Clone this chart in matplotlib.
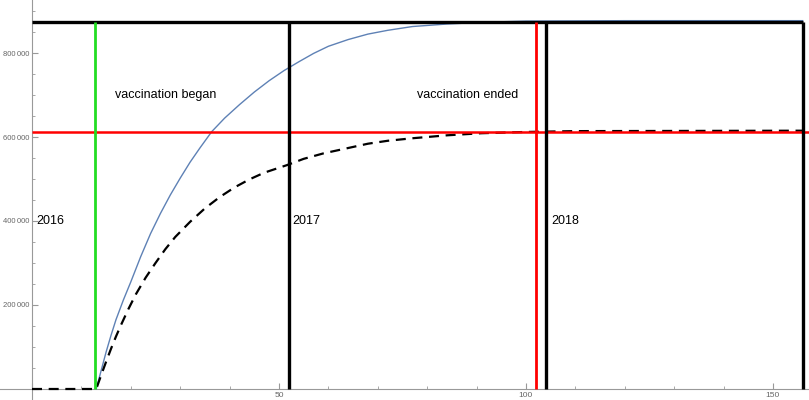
import matplotlib.pyplot as plt
from matplotlib.ticker import MultipleLocator, FuncFormatter

# weeks since start of 2016 vs. vaccinated count
weeks_model = [13, 14, 15, 16, 17, 18.5, 20, 22, 24, 26, 28, 30, 32, 34, 36.4, 39,
               42, 45, 48, 51, 54, 57, 60, 64, 68, 72, 77, 84, 91, 100, 120, 156]
vacc_model = [0, 44000, 88000, 128000, 165000, 212000, 255000, 315000, 370000,
              418000, 462000, 502000, 540000, 574000, 613000, 645000, 677000,
              707000, 734000, 758000, 779000, 799000, 816000, 832000, 845000,
              854000, 863000, 869000, 873000, 876000, 877000, 877000]

weeks_real = [0, 13, 14, 15, 16, 17, 18, 19.5, 21, 23, 25, 27, 29, 32, 35, 38, 41,
              44, 47, 51.6, 55, 59, 63.7, 68, 72, 77, 84, 91, 100, 110, 156]
vacc_real = [0, 0, 33000, 65000, 96000, 125000, 152000, 190000, 225000, 265000,
             300000, 333000, 362000, 398000, 430000, 457000, 480000, 499000,
             515000, 533000, 548000, 561000, 573000, 584000, 591000, 597000,
             604000, 609000, 612000, 614000, 615000]

target_top = 875000
target_real = 613000
week_start = 12.8
week_end = 102
year_marks = [52, 104, 156]
year_labels = ["2016", "2017", "2018"]
year_label_x = [0.8, 52.6, 105.1]

plt.rcParams["font.family"] = ["Liberation Sans", "DejaVu Sans"]

fig = plt.figure(figsize=(8.09, 4.0), dpi=100)
ax = fig.add_axes([0, 0, 1, 1])

ax.plot(weeks_model, vacc_model, color="#5e81b5", linewidth=1.0, zorder=3)
ax.plot(weeks_real, vacc_real, color="black", linewidth=1.6,
        dashes=(4.5, 3), zorder=3)

ax.hlines(target_top, 0, year_marks[-1], color="black", linewidth=2.4, zorder=4)
ax.hlines(target_real, 0, 157.3, color="red", linewidth=1.8, zorder=4)
ax.vlines(week_start, 0, target_top, color="#22dd22", linewidth=2.0, zorder=4)
ax.vlines(week_end, 0, target_top, color="red", linewidth=2.0, zorder=4)
for x in year_marks:
    ax.vlines(x, 0, target_top, color="black", linewidth=2.4, zorder=4)

ax.text(16.8, 700000, "vaccination began", fontsize=9, va="center")
ax.text(77.9, 700000, "vaccination ended", fontsize=9, va="center")
for x, lab in zip(year_label_x, year_labels):
    ax.text(x, 400000, lab, fontsize=9, va="center")

ax.set_xlim(-6.48, 157.3)
ax.set_ylim(-26200, 926200)

for side in ["top", "right"]:
    ax.spines[side].set_visible(False)
ax.spines["left"].set_position(("data", 0))
ax.spines["bottom"].set_position(("data", 0))
for side in ["left", "bottom"]:
    ax.spines[side].set_color("#999999")
    ax.spines[side].set_linewidth(0.8)

ax.xaxis.set_major_locator(MultipleLocator(50))
ax.xaxis.set_minor_locator(MultipleLocator(10))
ax.yaxis.set_major_locator(MultipleLocator(200000))
ax.yaxis.set_minor_locator(MultipleLocator(50000))
ax.xaxis.set_major_formatter(FuncFormatter(lambda v, p: "" if v == 0 else f"{v:.0f}"))
ax.yaxis.set_major_formatter(FuncFormatter(
    lambda v, p: "" if v <= 0 else f"{v:,.0f}".replace(",", "\u2009")))
ax.tick_params(which="both", direction="in", color="#999999",
               labelcolor="#666666", labelsize=5.5)
ax.tick_params(axis="x", labelsize=6)
ax.tick_params(which="major", length=4, pad=2)
ax.tick_params(which="minor", length=2.5)

fig.savefig("out.png", dpi=100)
